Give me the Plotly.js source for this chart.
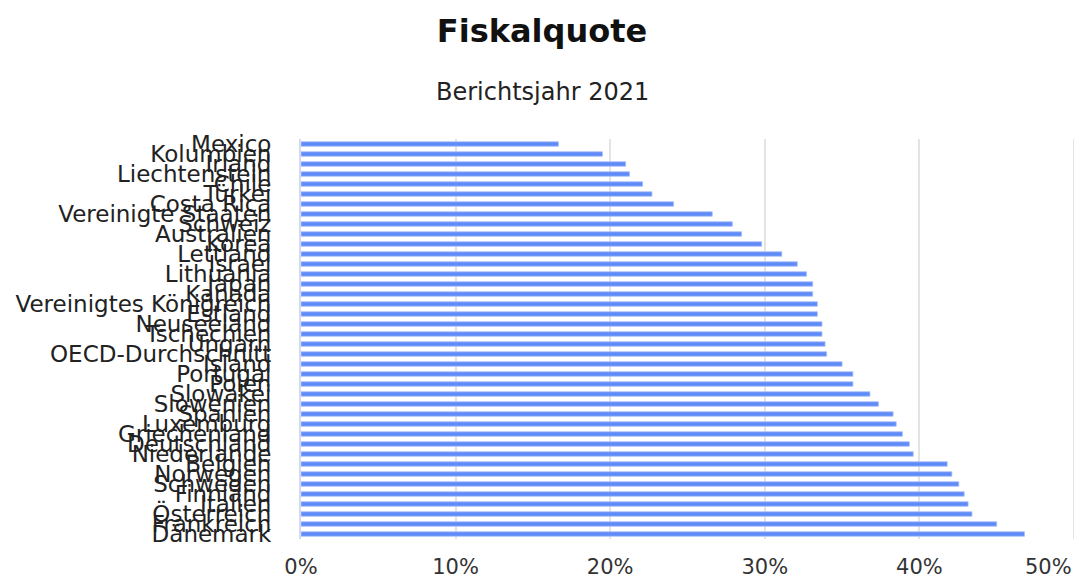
<!DOCTYPE html>
<html>
<head>
<meta charset="utf-8">
<script src="https://cdn.plot.ly/plotly-3.0.1.min.js"></script>
<style>html,body{margin:0;padding:0;background:#fff;}#chart{width:1084px;height:580px;}</style>
</head>
<body>
<div id="chart"></div>
<script>
var countries = ["Mexico","Kolumbien","Irland","Liechtenstein","Chile","Türkei","Costa Rica","Vereinigte Staaten","Schweiz","Australien","Korea","Lettland","Israel","Lithuania","Japan","Kanada","Vereinigtes Königreich","Estland","Neuseeland","Tschechien","Ungarn","OECD-Durchschnitt","Island","Portugal","Polen","Slowakei","Slowenien","Spanien","Luxemburg","Griechenland","Deutschland","Niederlande","Belgien","Norwegen","Schweden","Finnland","Italien","Österreich","Frankreich","Dänemark"];
var quote = [0.1665,0.195,0.210,0.2125,0.221,0.227,0.241,0.266,0.279,0.285,0.298,0.311,0.321,0.327,0.331,0.331,0.334,0.334,0.337,0.337,0.339,0.340,0.350,0.357,0.357,0.368,0.3735,0.383,0.385,0.389,0.3935,0.396,0.418,0.421,0.4255,0.429,0.4315,0.434,0.450,0.468];
var xTicks = [0,0.1,0.2,0.3,0.4,0.5];
var xTickText = ["0%","10%","20%","30%","40%","50%"];

var font = "DejaVu Sans, sans-serif";
var tickFont = {family: font, size: 21, color: "#333"};
var lastIdx = xTicks.length - 1;

var trace = {
  type: "bar",
  orientation: "h",
  y: countries,
  x: quote,
  marker: {color: "#5f8bf7", line: {color: "#a9c0fb", width: 0.8}},
  hoverinfo: "x+y"
};
var layout = {
  width: 1084, height: 580,
  margin: {l: 301, r: 10, t: 139, b: 41},
  paper_bgcolor: "#ffffff", plot_bgcolor: "#ffffff",
  bargap: 0.55,
  showlegend: false,
  title: {text: "<b>Fiskalquote</b>", font: {family: font, size: 32, color: "#111"}, x: 0.5, xanchor: "center", y: 0.947, yanchor: "middle", yref: "container"},
  annotations: [
    {text: "Berichtsjahr 2021", xref: "paper", yref: "paper", x: 0.312, xanchor: "center", y: 1.1175, yanchor: "middle", showarrow: false, font: {family: font, size: 24, color: "#222"}},
    {text: xTickText[lastIdx], xref: "x", yref: "paper", x: xTicks[lastIdx], xanchor: "right", y: -0.07, yanchor: "middle", showarrow: false, font: tickFont}
  ],
  xaxis: {
    range: [0, 0.5],
    tickmode: "array", tickvals: xTicks.slice(0, lastIdx), ticktext: xTickText.slice(0, lastIdx),
    showgrid: true, gridcolor: "#e4e4e4", gridwidth: 2,
    zeroline: false, showline: false,
    ticks: "", ticklabelstandoff: 13,
    tickfont: tickFont
  },
  shapes: [
    {type: "line", xref: "x", yref: "paper", x0: xTicks[lastIdx], x1: xTicks[lastIdx], y0: 0, y1: 1, line: {color: "#e4e4e4", width: 2}, layer: "below"}
  ],
  yaxis: {
    autorange: "reversed", type: "category",
    tickmode: "array", tickvals: countries, ticktext: countries,
    showgrid: false, zeroline: false,
    showline: true, linecolor: "#d5daf0", linewidth: 2,
    ticks: "", ticklabelstandoff: 23,
    tickfont: {family: font, size: 23, color: "#222"}
  }
};
Plotly.newPlot("chart", [trace], layout, {displayModeBar: false, staticPlot: true});
</script>
</body>
</html>
